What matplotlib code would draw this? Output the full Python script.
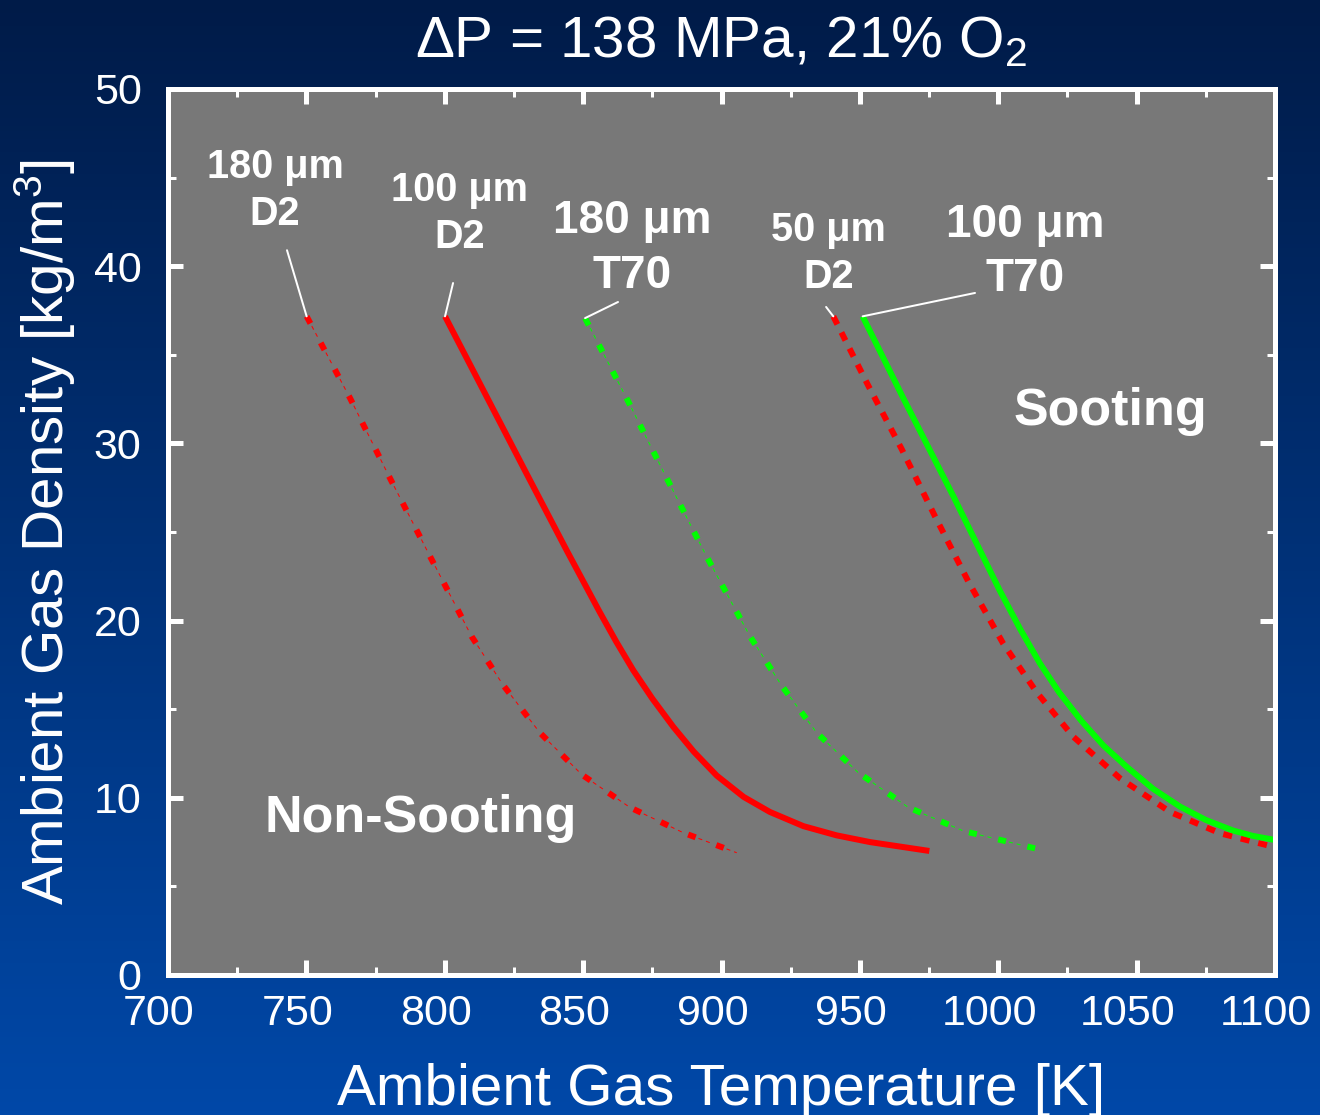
import numpy as np
import matplotlib
matplotlib.use("Agg")
import matplotlib.pyplot as plt
from matplotlib.ticker import MultipleLocator
from matplotlib.transforms import ScaledTranslation

plt.rcParams['font.family'] = ['Liberation Sans', 'DejaVu Sans']
plt.rcParams['mathtext.default'] = 'regular'
plt.rcParams['lines.scale_dashes'] = False

# ---------------- data ----------------
T_180_D2 = [750.1, 765.8, 780.2, 794.7, 809.7, 821.2, 834.4, 849.5, 866.9, 886.2, 905.5]
R_180_D2 = [37.17, 32.55, 28.04, 23.62, 19.11, 16.34, 13.67, 11.31, 9.46, 8.03, 6.90]

T_100_D2 = [800.1, 815.2, 829.6, 844.1, 856.1, 862.0, 868.1, 875.0, 882.6, 890.0, 898.3,
            908.0, 917.5, 929.6, 941.6, 953.7, 975.1]
R_100_D2 = [37.17, 32.62, 28.28, 23.95, 20.45, 18.80, 17.20, 15.60, 14.00, 12.60, 11.25,
            10.05, 9.20, 8.40, 7.88, 7.50, 7.00]

T_180_T70 = [850.7, 865.7, 880.2, 894.6, 910.3, 921.7, 934.4, 949.4, 967.5, 987.4, 1014.5]
R_180_T70 = [37.07, 32.55, 28.04, 23.62, 19.11, 16.34, 13.67, 11.42, 9.46, 8.13, 7.10]

T_50_D2 = [940.4, 953.0, 965.1, 977.1, 989.2, 1001.8, 1013.9, 1027.1, 1044.0, 1062.1, 1080.1, 1100.0]
R_50_D2 = [37.17, 33.27, 29.68, 25.90, 22.20, 18.70, 15.95, 13.45, 11.10, 9.20, 8.00, 7.21]

T_100_T70 = [951.0, 965.7, 983.8, 1000.6, 1008.0, 1015.0, 1022.0, 1030.0, 1038.0, 1046.4,
             1056.0, 1065.7, 1075.0, 1084.9, 1092.0, 1100.0]
R_100_T70 = [37.17, 32.55, 27.01, 21.68, 19.50, 17.60, 15.95, 14.35, 12.95, 11.75,
             10.50, 9.50, 8.75, 8.15, 7.85, 7.62]

x_ticks = [700, 750, 800, 850, 900, 950, 1000, 1050, 1100]
y_ticks = [0, 10, 20, 30, 40, 50]

title = "ΔP = 138 MPa, 21% O$_2$"
xlabel = "Ambient Gas Temperature [K]"
ylabel = "Ambient Gas Density [kg/m$^3$]"

labels = ["180 μm\nD2", "100 μm\nD2", "180 μm\nT70", "50 μm\nD2", "100 μm\nT70"]
label_pos = [(738.7, 44.3), (805.5, 43.0), (867.7, 41.0), (938.8, 40.7), (1009.7, 40.8)]
leader_from = [(743.0, 40.9), (803.0, 39.05), (862.6, 37.98), (937.8, 37.7), (991.6, 38.49)]
label_size = [28.5, 28.5, 33, 28.5, 33]

# ---------------- figure ----------------
W, H, DPI = 13.2, 11.15, 100
fig = plt.figure(figsize=(W, H), dpi=DPI)

# background gradient
bg = fig.add_axes([0, 0, 1, 1], zorder=-10)
top = np.array([0x00, 0x1b, 0x48]) / 255.0
bot = np.array([0x00, 0x48, 0xa8]) / 255.0
t = np.linspace(0, 1, 256)[:, None]
grad = (top[None, :] * (1 - t) + bot[None, :] * t)[:, None, :]
bg.imshow(grad, aspect='auto', extent=[0, 1, 0, 1])
bg.set_axis_off()

ax = fig.add_axes([168 / 1320, 1 - 975 / 1115, 1107 / 1320, 886 / 1115])
ax.set_facecolor('#787878')

RED = '#ff0000'
GREEN = '#00ff00'
px = 0.72  # points per pixel


def dash_dot_dot(T, R, color):
    ax.plot(T, R, color=color, lw=6 * px, solid_capstyle='butt', dash_capstyle='butt',
            linestyle=(0, (8 * px, 22 * px)))
    ax.plot(T, R, color=color, lw=1.0 * px, dash_capstyle='butt',
            linestyle=(19 * px, (4 * px, 4 * px, 4 * px, 18 * px)))


dash_dot_dot(T_180_D2, R_180_D2, RED)
ax.plot(T_100_D2, R_100_D2, color=RED, lw=6 * px, solid_capstyle='butt', solid_joinstyle='round')
dash_dot_dot(T_180_T70, R_180_T70, GREEN)
ax.plot(T_50_D2, R_50_D2, color=RED, lw=6 * px, dash_capstyle='butt',
        linestyle=(0, (9 * px, 9 * px)))
ax.plot(T_100_T70, R_100_T70, color=GREEN, lw=6 * px, solid_capstyle='butt', solid_joinstyle='round')

curve_starts = [(T_180_D2[0], R_180_D2[0]), (T_100_D2[0], R_100_D2[0]),
                (T_180_T70[0], R_180_T70[0]), (T_50_D2[0], R_50_D2[0]),
                (T_100_T70[0], R_100_T70[0])]

for txt, pos, frm, start, fs in zip(labels, label_pos, leader_from, curve_starts, label_size):
    ax.text(pos[0], pos[1], txt, ha='center', va='center', color='white',
            fontsize=fs, fontweight='bold', linespacing=1.3)
    ax.annotate('', xy=start, xytext=frm,
                arrowprops=dict(arrowstyle='-', color='white', lw=2 * px,
                                shrinkA=0, shrinkB=0))

ax.text(1040.4, 31.8, "Sooting", ha='center', va='center', color='white',
        fontsize=37.5, fontweight='bold')
ax.text(791.4, 8.86, "Non-Sooting", ha='center', va='center', color='white',
        fontsize=37.5, fontweight='bold')

ax.set_xlim(700, 1100)
ax.set_ylim(0, 50)
ax.set_xticks(x_ticks)
ax.set_yticks(y_ticks)
ax.set_xticklabels([str(v) for v in x_ticks])
ax.set_yticklabels([str(v) for v in y_ticks])
ax.xaxis.set_minor_locator(MultipleLocator(25))
ax.yaxis.set_minor_locator(MultipleLocator(5))

for s in ax.spines.values():
    s.set_color('white')
    s.set_linewidth(5 * px)

ax.tick_params(which='both', direction='in', top=True, right=True, colors='white')
ax.tick_params(which='major', length=15 * px, width=5 * px, labelsize=31)
ax.tick_params(which='minor', length=8 * px, width=3 * px)
ax.tick_params(axis='x', which='major', pad=14)
ax.tick_params(axis='y', which='major', pad=19)

for lab in ax.get_xticklabels():
    lab.set_transform(lab.get_transform() + ScaledTranslation(-9 / DPI, 0, fig.dpi_scale_trans))

ax.set_xlabel(xlabel, fontsize=42, color='white')
ax.xaxis.set_label_coords(0.5, -115 / 886)
ax.xaxis.label.set_va('center')
ax.set_ylabel(ylabel, fontsize=42, color='white')
ax.yaxis.set_label_coords(-123 / 1107, 0.5)
ax.yaxis.label.set_va('center')

ax.set_title(title, fontsize=42, color='white', y=1 + 39 / 886, va='center')

fig.savefig('out.png', dpi=DPI)
